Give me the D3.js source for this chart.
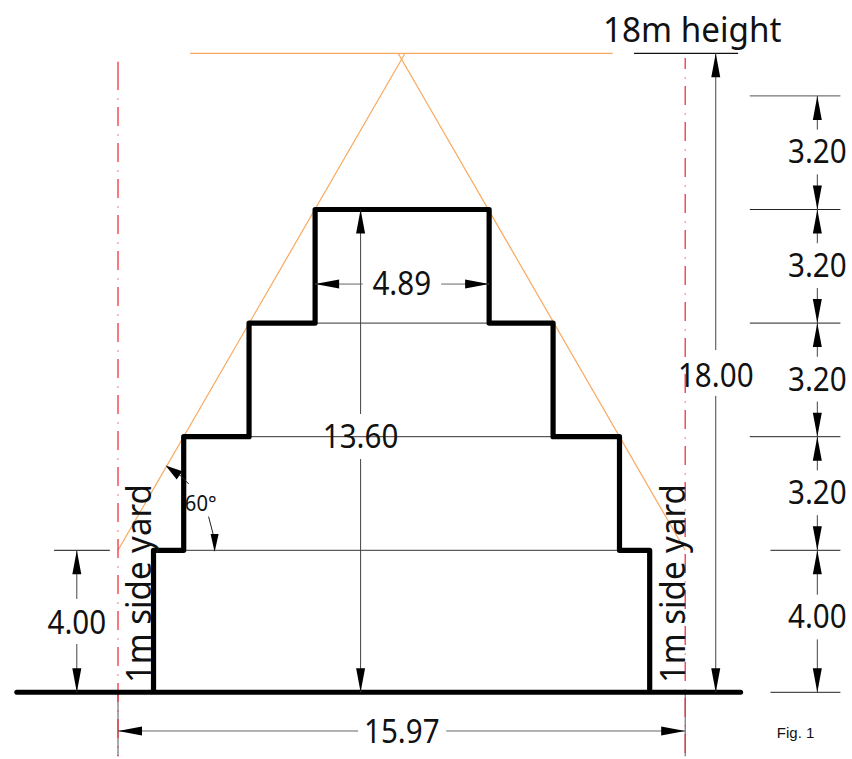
<!DOCTYPE html>
<html>
<head>
  <meta charset="utf-8">
  <title>18m height setback section</title>
  <script src="https://d3js.org/d3.v7.min.js"></script>
  <style>
    html, body { margin: 0; padding: 0; background: #fff; }
    svg { display: block; }
    text { font-family: "Noto Sans", "Open Sans", sans-serif; fill: #111; }
  </style>
</head>
<body>
<script>
// all values in metres, x from the left boundary, y from the ground
var outlineX = [1, 1, 1.85, 1.85, 3.69, 3.69, 5.55, 5.55, 10.45, 10.45, 12.25, 12.25, 14.12, 14.12, 14.97, 14.97];
var outlineY = [0, 4, 4, 7.2, 7.2, 10.4, 10.4, 13.6, 13.6, 10.4, 10.4, 7.2, 7.2, 4, 4, 0];
var floorLevels = [4, 7.2, 10.4];
var floorFrom = [1.85, 3.69, 5.55];
var floorTo = [14.12, 12.25, 10.45];
var boundaries = [0, 15.97];
var planeStartX = [0, 15.97];
var planeEndX = [8.083, 7.887];
var planeStartY = 4;
var planeEndY = 18;

var sideLevels = [0, 4, 7.2, 10.4, 13.6, 16.8];
var sideLabels = ["4.00", "3.20", "3.20", "3.20", "3.20"];

var width = 852;
var height = 759;

var x = d3.scaleLinear().domain([0, 15.97]).range([118, 685.2]);
var y = d3.scaleLinear().domain([0, 18]).range([692.3, 53.3]);

var svg = d3.select("body").append("svg").attr("width", width).attr("height", height);

function thin(x1, y1, x2, y2, color, w) {
  svg.append("line")
    .attr("x1", x(x1)).attr("y1", y(y1)).attr("x2", x(x2)).attr("y2", y(y2))
    .attr("stroke", color || "#222").attr("stroke-width", w || 1);
}

// arrowhead whose tip sits on the measured point, pointing along (dx, dy)
function arrow(xv, yv, dx, dy, len, half) {
  var px = x(xv), py = y(yv);
  len = len || 24; half = half || 4.5;
  var nx = -dy, ny = dx;
  svg.append("path")
    .attr("d", "M" + px + "," + py +
      "L" + (px - dx * len + nx * half) + "," + (py - dy * len + ny * half) +
      "L" + (px - dx * len - nx * half) + "," + (py - dy * len - ny * half) + "Z")
    .attr("fill", "#000");
}

// segoe-like text: noto squeezed a bit in width
function label(xv, yv, txt, size, sx, rotate) {
  svg.append("text")
    .attr("text-anchor", "middle")
    .attr("dominant-baseline", "central")
    .attr("font-size", size || 32)
    .attr("transform", "translate(" + x(xv) + "," + y(yv) + ")" +
      (rotate ? " rotate(-90)" : "") + " scale(" + (sx || 0.925) + ",1)")
    .text(txt);
}

// vertical dimension with a gap for its text
function vDim(xv, low, high, gapLow, gapHigh, txt, textY) {
  thin(xv, low, xv, gapLow, "#444");
  thin(xv, gapHigh, xv, high, "#444");
  arrow(xv, low, 0, 1);
  arrow(xv, high, 0, -1);
  label(xv, textY, txt);
}

// horizontal one
function hDim(yv, left, right, gapLeft, gapRight, txt, textX, textY) {
  thin(left, yv, gapLeft, yv, "#666");
  thin(gapRight, yv, right, yv, "#666");
  arrow(left, yv, -1, 0);
  arrow(right, yv, 1, 0);
  label(textX, textY, txt);
}

// orange 60 degree planes and the 18m line
d3.range(planeStartX.length).forEach(function(i) {
  thin(planeStartX[i], planeStartY, planeEndX[i], planeEndY, "#f9a85f", 1.2);
});
thin(2.03, 18, 13.93, 18, "#f9a85f", 1.2);

// boundary lines
boundaries.forEach(function(b) {
  thin(b, 0, b, -1.8, "#555");
});
function boundary(b, top, offset) {
  svg.append("line")
    .attr("x1", x(b)).attr("x2", x(b)).attr("y1", y(top)).attr("y2", y(-1.8))
    .attr("stroke", "#f5303f").attr("stroke-width", 1.3)
    .attr("stroke-dasharray", "19 8.5 1 7.5")
    .attr("stroke-dashoffset", offset);
}
boundary(0, 17.5, 0);
thin(0, 17.76, 0, 17.5, "#f5303f", 1.3);
boundary(15.97, 17.87, 8);

// floor lines and extension lines
floorLevels.forEach(function(f, i) { thin(floorFrom[i], f, floorTo[i], f, "#333"); });
thin(-1.8, 4, -0.23, 4, "#111");
thin(14.53, 18, 17.46, 18, "#111", 1.3);
sideLevels.forEach(function(l, i) {
  var from = (l <= 4) ? 18.37 : 17.79;
  thin(from, l, 20.34, l, i === 5 ? "#555" : "#222");
});

// building and ground
svg.append("line")
  .attr("x1", x(-2.85)).attr("x2", x(17.53)).attr("y1", y(0)).attr("y2", y(0))
  .attr("stroke", "#000").attr("stroke-width", 5).attr("stroke-linecap", "round");
svg.append("path")
  .datum(d3.zip(outlineX, outlineY))
  .attr("d", d3.line().x(function(d) { return x(d[0]); }).y(function(d) { return y(d[1]); }))
  .attr("fill", "none").attr("stroke", "#000").attr("stroke-width", 5.2).attr("stroke-linejoin", "round");

// dimensions
vDim(16.83, 0, 18, 8.35, 9.64, "18.00", 8.96);
vDim(6.83, 0, 13.6, 6.57, 7.84, "13.60", 7.24);
vDim(-1.16, 0, 4, 1.36, 2.63, "4.00", 1.98);
hDim(-1.09, 0, 15.97, 6.76, 9.24, "15.97", 7.99, -1.08);
hDim(11.5, 5.55, 10.45, 6.89, 9.1, "4.89", 7.99, 11.53);

sideLabels.forEach(function(s, i) {
  var xs = 19.69;
  var lo = sideLevels[i], hi = sideLevels[i + 1];
  var textY = (i === 0) ? 2.12 : (lo + hi) / 2 + 0.02;
  thin(xs, lo, xs, textY - 0.63, "#444");
  thin(xs, textY + 0.63, xs, hi, "#444");
  arrow(xs, lo, 0, 1);
  arrow(xs, hi, 0, -1);
  label(xs, textY + 0.03, s);
});

// 60 degree angle
thin(1.73, 6.13, 1.99, 5.87);
arrow(1.34, 6.386, -0.82, -0.57, 17, 5);
thin(2.55, 4.95, 2.68, 4.45);
arrow(2.72, 3.95, 0, 1, 18, 4);
label(2.33, 5.35, "60°", 22, 0.92);

// side yard notes
label(0.55, 3.06, "1m side yard", 35, 0.944, true);
label(15.6, 3.06, "1m side yard", 35, 0.944, true);

label(16.17, 18.7, "18m height", 35, 0.95);

svg.append("text").attr("x", x(18.55)).attr("y", y(-1.287))
  .attr("font-size", 15).style("font-family", "'Liberation Sans', Arial, sans-serif").text("Fig. 1");
</script>
</body>
</html>
